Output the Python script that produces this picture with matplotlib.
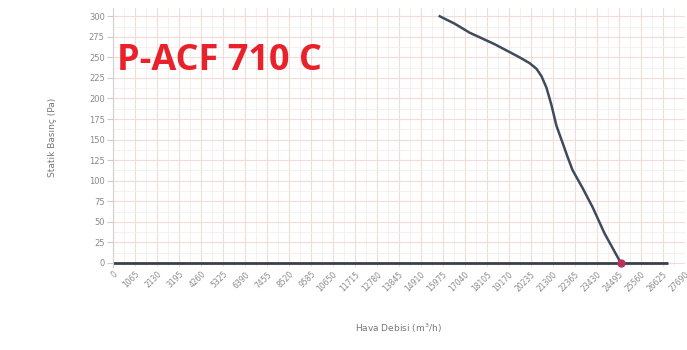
import numpy as np
import matplotlib
matplotlib.use('Agg')
from matplotlib import pyplot as plt

# fan curve P-ACF 710 C
flow = [15830, 16550, 17280, 18490, 19700, 20180, 20520, 20760, 21000, 21240,
        21480, 21780, 22020, 22260, 22750, 23230, 23810, 24600]
pressure = [300, 291, 280, 266, 250, 243, 236, 227, 213, 192,
            167, 146, 129, 113, 91, 68, 36, 0]
op_flow = 24600
op_pressure = 0

xticks = [i * 1065 for i in range(27)]
yticks = list(range(0, 301, 25))

fig = plt.figure(figsize=(6.87, 3.5), dpi=100)
ax = fig.add_axes([0.1645, 0.237, 0.832, 0.74])

ax.set_xlim(0, 27690)
ax.set_ylim(-5, 310)
ax.set_xticks(xticks)
ax.set_xticklabels([str(t) for t in xticks], rotation=45, ha='right', va='top',
                   rotation_mode='anchor', fontsize=5.5, color='#8a8a8a')
ax.set_yticks(yticks)
ax.set_yticklabels([str(t) for t in yticks], fontsize=6, color='#8a8a8a')
ax.set_xticks(np.arange(0, 27690, 1065 / 2), minor=True)
ax.set_yticks(np.arange(0, 311, 12.5), minor=True)
ax.tick_params(axis='x', length=0, pad=2)
ax.tick_params(axis='y', length=4, color='#cccccc', pad=2)
ax.tick_params(which='minor', length=0)

ax.grid(True, which='major', color='#f2dcd8', linewidth=0.8)
ax.grid(True, which='minor', color='#f8ecea', linewidth=0.6)
ax.set_axisbelow(True)
for s in ['top', 'right', 'bottom']:
    ax.spines[s].set_visible(False)
ax.spines['left'].set_color('#d0d0d0')

ax.plot([0, 26900], [0, 0], color='#3a3f48', lw=2, solid_capstyle='butt')
ax.plot(flow, pressure, color='#3d4b5c', lw=1.8, solid_joinstyle='round')
ax.plot([op_flow], [op_pressure], 'o', color='#b8325a', ms=5, zorder=5)

ax.set_xlabel('Hava Debisi (m$^3$/h)', fontsize=6.5, color='#777777', labelpad=20)
ax.set_ylabel('Statik Basınç (Pa)', fontsize=6.5, color='#777777', labelpad=23)

fig.text(0.17, 0.80, 'P-ACF 710 C', color='#e8212b', fontsize=26,
         fontweight='bold', family=['Open Sans', 'DejaVu Sans'])

fig.savefig('out.png', dpi=100, facecolor='white')
